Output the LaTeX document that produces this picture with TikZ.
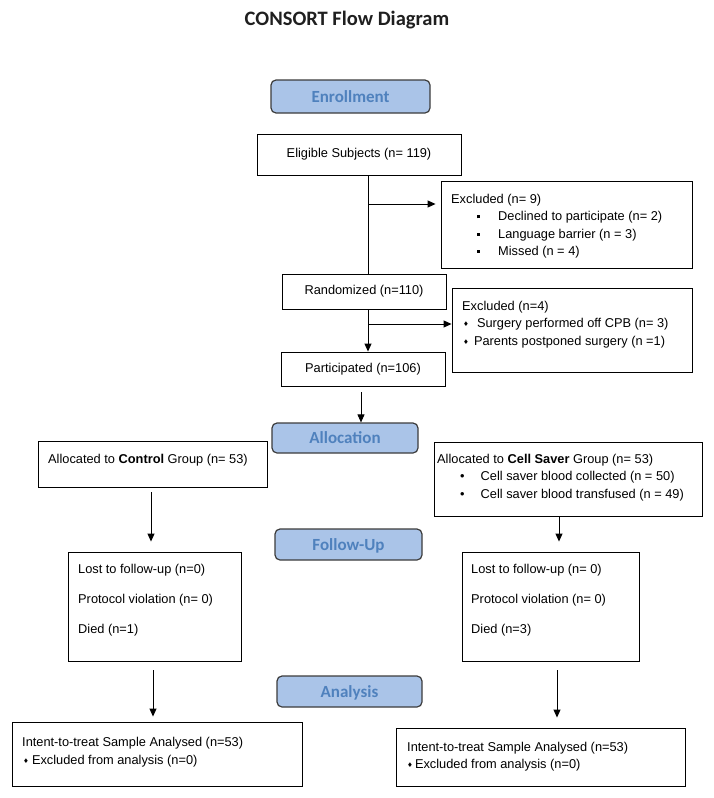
\documentclass[tikz,border=0pt]{standalone}
\usepackage{fontspec}
\setmainfont{Liberation Sans}
\newfontfamily\carl{Carlito}
\newfontfamily\dejavu{DejaVu Sans}
\usetikzlibrary{arrows.meta}
\definecolor{hdrfill}{RGB}{170,196,232}
\definecolor{hdrtext}{RGB}{79,129,189}
\definecolor{hdrline}{RGB}{60,60,60}
\newcommand{\diam}{\raisebox{1pt}{\dejavu\fontsize{6.5}{6.5}\selectfont ♦}}
\newcommand{\sqb}{\rule[2.5pt]{3pt}{3pt}}
\begin{document}
\begin{tikzpicture}[x=1pt,y=-1pt,
  box/.style={draw=black, line width=0.9pt, inner sep=0pt, font=\fontsize{12.8}{15}\selectfont},
  hdr/.style={draw=hdrline, fill=hdrfill, line width=1.2pt, rounded corners=5pt, inner sep=0pt,
    font=\carl\bfseries\fontsize{17}{20}\selectfont, text=hdrtext, text height=11.5pt, text depth=0.5pt},
  txt/.style={inner sep=0pt, align=left, anchor=north west},
  arr/.style={draw=black, line width=0.9pt, -{Triangle[length=8pt,width=7pt]}},
  ln/.style={draw=black, line width=0.9pt}]
\useasboundingbox (0,0) rectangle (714,798);

\node[font=\carl\bfseries\fontsize{20.5}{24}\selectfont, text=black!88, anchor=base] (title) at (347,25) {CONSORT Flow Diagram};

% section headers
\node[hdr, minimum width=159pt, minimum height=33pt] (enroll) at (350.5,96.5) {Enrollment};
\node[hdr, minimum width=146pt, minimum height=30pt] (alloc) at (345,438) {Allocation};
\node[hdr, minimum width=147pt, minimum height=31pt] (follow) at (348.5,544.5) {Follow-Up};
\node[hdr, minimum width=145pt, minimum height=31pt] (anal) at (349.5,691.5) {Analysis};

% boxes
\node[box, minimum width=204pt, minimum height=41pt] (elig) at (359,154.5) {Eligible Subjects (n= 119)};
\node[box, minimum width=251pt, minimum height=87pt] (exc1) at (566.5,224.5) {};
\node[box, minimum width=164pt, minimum height=35pt] (rand) at (364,291.5) {Randomized (n=110)};
\node[box, minimum width=240pt, minimum height=84pt] (exc2) at (572,330) {};
\node[box, minimum width=164pt, minimum height=34pt] (part) at (363,369) {Participated (n=106)};
\node[box, minimum width=229pt, minimum height=46pt] (ctrl) at (152.5,464) {};
\node[box, minimum width=268pt, minimum height=74pt] (cell) at (568,479) {};
\node[box, minimum width=173pt, minimum height=109pt] (ful) at (154.5,606.5) {};
\node[box, minimum width=177pt, minimum height=109pt] (fur) at (550.5,606.5) {};
\node[box, minimum width=290pt, minimum height=64pt] (ittl) at (157,754) {};
\node[box, minimum width=289pt, minimum height=58pt] (ittr) at (540.5,757) {};

% texts inside boxes
\node[txt, font=\fontsize{12.8}{17.3}\selectfont] (exc1t) at (451,194) {Excluded (n= 9)\\
\hspace*{26pt}\sqb\hspace{18pt}Declined to participate (n= 2)\\
\hspace*{26pt}\sqb\hspace{18pt}Language barrier (n = 3)\\
\hspace*{26pt}\sqb\hspace{18pt}Missed (n = 4)};
\node[txt, font=\fontsize{12.8}{17.5}\selectfont] (exc2t) at (462,301) {Excluded (n=4)\\
\hspace*{1pt}\diam\hspace{8pt}Surgery performed off CPB (n= 3)\\
\hspace*{1pt}\diam\hspace{5pt}Parents postponed surgery (n =1)};
\node[txt, font=\fontsize{12.8}{17}\selectfont] (ctrlt) at (48,454) {Allocated to \textbf{Control} Group (n= 53)};
\node[txt, font=\fontsize{12.8}{17.5}\selectfont] (cellt) at (437,454) {Allocated to \textbf{Cell Saver} Group (n= 53)\\
\hspace*{23pt}\textbullet\hspace{16pt}Cell saver blood collected (n = 50)\\
\hspace*{23pt}\textbullet\hspace{16pt}Cell saver blood transfused (n = 49)};
\node[txt, font=\fontsize{12.8}{30}\selectfont] (fult) at (78,564) {Lost to follow-up (n=0)\\Protocol violation (n= 0)\\Died (n=1)};
\node[txt, font=\fontsize{12.8}{30}\selectfont] (furt) at (471,564) {Lost to follow-up (n= 0)\\Protocol violation (n= 0)\\Died (n=3)};
\node[txt, font=\fontsize{12.8}{18}\selectfont] (ittlt) at (22,737) {Intent-to-treat Sample Analysed (n=53)\\
\hspace*{1pt}\diam\hspace{3pt}Excluded from analysis (n=0)};
\node[txt, font=\fontsize{12.8}{17}\selectfont] (ittrt) at (407,742) {Intent-to-treat Sample Analysed (n=53)\\
\hspace*{0pt}\diam\hspace{2pt}Excluded from analysis (n=0)};

% connectors
\coordinate (v1) at (368,204);
\draw[ln] (elig.south -| v1) -- (rand.north -| v1);
\draw[arr, shorten >=5pt] (v1) -- (exc1.west |- v1);
\coordinate (v2) at (368,324);
\draw[arr] (rand.south -| v2) -- (part.north -| v2);
\draw[arr] (v2) -- (exc2.west |- v2);
\coordinate (v3) at (361,0);
\draw[arr, shorten <=6pt] (part.south -| v3) -- (alloc.north -| v3);
\coordinate (v4) at (151,0);
\draw[arr, shorten <=5pt, shorten >=10pt] (ctrl.south -| v4) -- (ful.north -| v4);
\coordinate (v5) at (559,0);
\draw[arr, shorten >=10pt] (cell.south -| v5) -- (fur.north -| v5);
\coordinate (v6) at (153,0);
\draw[arr, shorten <=9pt, shorten >=5pt] (ful.south -| v6) -- (ittl.north -| v6);
\coordinate (v7) at (557,0);
\draw[arr, shorten <=9pt, shorten >=10pt] (fur.south -| v7) -- (ittr.north -| v7);
\end{tikzpicture}
\end{document}
